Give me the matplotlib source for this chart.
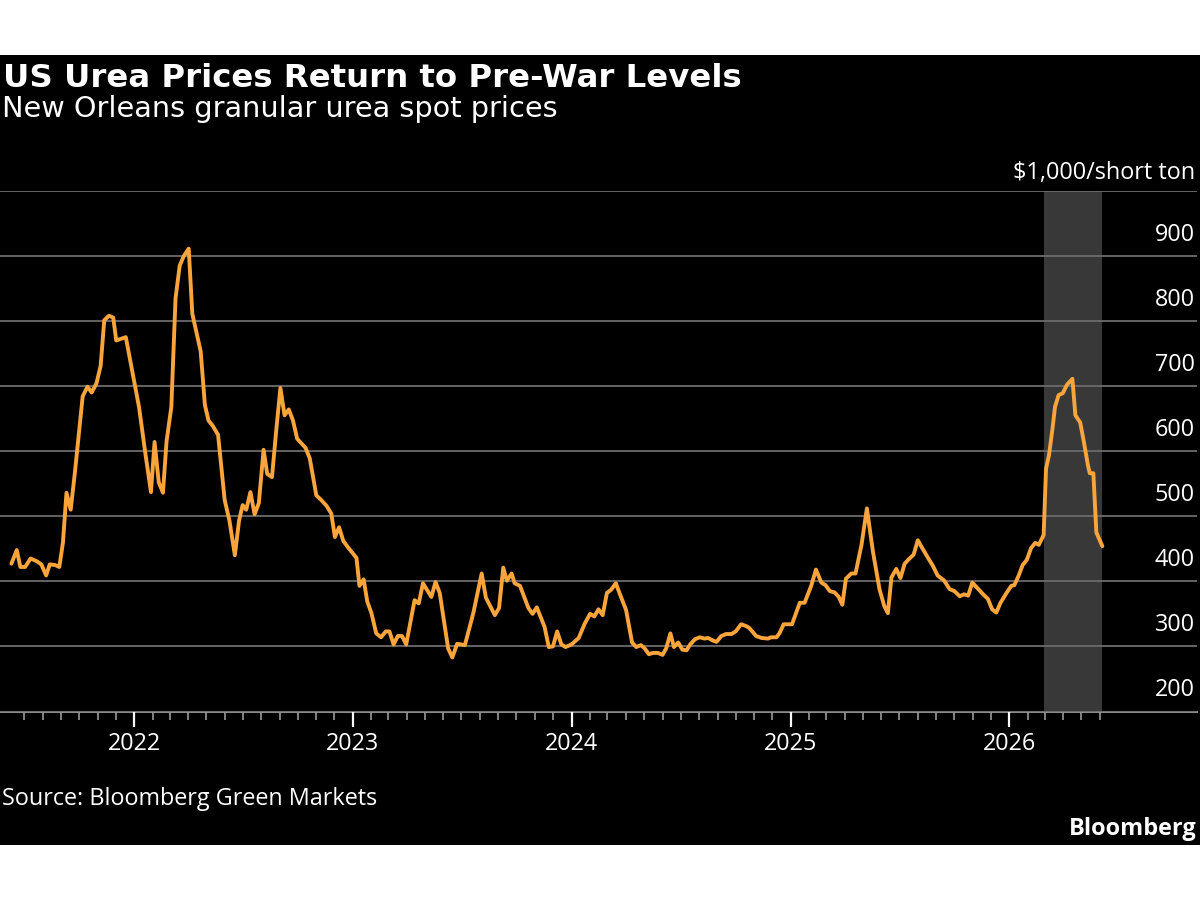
import matplotlib
matplotlib.use("Agg")
import matplotlib.pyplot as plt
import matplotlib.transforms as mtransforms
from matplotlib.patches import Rectangle
import pandas as pd

# ------------------------
# DATA ($ per short ton)
# ------------------------
dates_2021 = ["2021-06-10", "2021-06-19", "2021-06-25", "2021-07-03", "2021-07-12", "2021-07-22",
              "2021-07-30", "2021-08-07", "2021-08-13", "2021-08-22", "2021-08-29", "2021-09-04",
              "2021-09-10", "2021-09-17", "2021-09-24", "2021-10-07", "2021-10-15", "2021-10-22",
              "2021-10-30", "2021-11-06", "2021-11-12", "2021-11-20", "2021-11-27", "2021-12-02",
              "2021-12-18"]
price_2021 = [427, 448, 422, 422, 435, 431, 426, 409, 426, 425, 422, 459,
              536, 510, 567, 684, 699, 690, 704, 731, 801, 808, 805, 770,
              775]

dates_2022 = ["2022-01-09", "2022-01-20", "2022-01-29", "2022-02-04", "2022-02-11", "2022-02-18",
              "2022-02-24", "2022-03-04", "2022-03-11", "2022-03-18", "2022-03-25", "2022-04-02",
              "2022-04-08", "2022-04-15", "2022-04-22", "2022-04-29", "2022-05-05", "2022-05-12",
              "2022-05-21", "2022-06-01", "2022-06-09", "2022-06-18", "2022-06-25", "2022-07-01",
              "2022-07-07", "2022-07-14", "2022-07-21", "2022-07-28", "2022-08-05", "2022-08-11",
              "2022-08-19", "2022-08-26", "2022-09-02", "2022-09-09", "2022-09-16", "2022-09-23",
              "2022-09-30", "2022-10-07", "2022-10-14", "2022-10-21", "2022-11-01", "2022-11-09",
              "2022-11-18", "2022-11-26", "2022-12-02", "2022-12-09", "2022-12-16", "2022-12-24"]
price_2022 = [668, 594, 537, 614, 552, 536, 615, 668, 835, 885, 900, 911,
              811, 782, 753, 671, 647, 639, 625, 525, 493, 440, 493, 517,
              510, 537, 503, 520, 602, 565, 560, 631, 697, 655, 664, 647,
              619, 612, 605, 589, 532, 525, 516, 504, 468, 483, 462, 452]

dates_2023 = ["2023-01-01", "2023-01-07", "2023-01-12", "2023-01-19", "2023-01-25", "2023-02-01",
              "2023-02-09", "2023-02-17", "2023-02-25", "2023-03-03", "2023-03-10", "2023-03-17",
              "2023-03-24", "2023-03-31", "2023-04-14", "2023-04-21", "2023-04-28", "2023-05-12",
              "2023-05-19", "2023-05-26", "2023-06-09", "2023-06-16", "2023-06-24", "2023-07-07",
              "2023-07-21", "2023-08-04", "2023-08-11", "2023-08-26", "2023-09-02", "2023-09-09",
              "2023-09-15", "2023-09-23", "2023-09-28", "2023-10-07", "2023-10-21", "2023-10-28",
              "2023-11-04", "2023-11-17", "2023-11-24", "2023-12-01", "2023-12-08", "2023-12-15",
              "2023-12-22"]
price_2023 = [443, 436, 393, 403, 369, 351, 320, 314, 323, 323, 303, 316,
              316, 303, 371, 366, 397, 376, 399, 382, 297, 283, 304, 302,
              351, 412, 375, 348, 359, 421, 401, 412, 397, 393, 359, 350,
              360, 330, 299, 300, 323, 303, 299]

dates_2024 = ["2024-01-01", "2024-01-13", "2024-01-23", "2024-02-01", "2024-02-08", "2024-02-15",
              "2024-02-22", "2024-02-29", "2024-03-07", "2024-03-15", "2024-03-21", "2024-04-01",
              "2024-04-11", "2024-04-18", "2024-04-26", "2024-05-02", "2024-05-09", "2024-05-16",
              "2024-05-24", "2024-06-01", "2024-06-07", "2024-06-14", "2024-06-20", "2024-06-27",
              "2024-07-04", "2024-07-11", "2024-07-17", "2024-07-25", "2024-08-02", "2024-08-10",
              "2024-08-16", "2024-08-24", "2024-08-30", "2024-09-07", "2024-09-15", "2024-09-24",
              "2024-10-01", "2024-10-10", "2024-10-19", "2024-10-24", "2024-11-04", "2024-11-13",
              "2024-11-24", "2024-11-29", "2024-12-08", "2024-12-13", "2024-12-20"]
price_2024 = [303, 313, 335, 350, 346, 357, 348, 382, 387, 397, 382, 356,
              306, 299, 302, 297, 288, 290, 290, 287, 297, 320, 299, 306,
              295, 294, 303, 311, 314, 312, 313, 309, 307, 316, 319, 319,
              323, 334, 331, 328, 316, 313, 312, 314, 314, 320, 334]

dates_2025 = ["2025-01-03", "2025-01-16", "2025-01-24", "2025-02-04", "2025-02-12", "2025-02-21",
              "2025-02-28", "2025-03-07", "2025-03-15", "2025-03-22", "2025-03-28", "2025-04-03",
              "2025-04-12", "2025-04-19", "2025-04-29", "2025-05-08", "2025-05-18", "2025-05-29",
              "2025-06-06", "2025-06-12", "2025-06-18", "2025-06-26", "2025-07-03", "2025-07-10",
              "2025-07-17", "2025-07-25", "2025-08-01", "2025-08-09", "2025-08-18", "2025-08-26",
              "2025-09-03", "2025-09-14", "2025-09-23", "2025-10-01", "2025-10-10", "2025-10-17",
              "2025-10-24", "2025-10-31", "2025-11-08", "2025-11-18", "2025-11-26", "2025-12-03",
              "2025-12-10", "2025-12-17", "2025-12-27"]
price_2025 = [334, 367, 367, 393, 418, 398, 394, 385, 383, 376, 364, 404,
              412, 412, 456, 512, 446, 388, 362, 351, 406, 419, 405, 427,
              434, 441, 463, 450, 436, 424, 409, 401, 388, 385, 377, 380,
              378, 398, 390, 380, 373, 357, 352, 367, 382]

dates_2026 = ["2026-01-04", "2026-01-09", "2026-01-16", "2026-01-23", "2026-01-30", "2026-02-06",
              "2026-02-13", "2026-02-19", "2026-02-27", "2026-03-03", "2026-03-08", "2026-03-14",
              "2026-03-18", "2026-03-24", "2026-03-31", "2026-04-07", "2026-04-16", "2026-04-21",
              "2026-04-29", "2026-05-05", "2026-05-12", "2026-05-15", "2026-05-21", "2026-05-26",
              "2026-06-05"]
price_2026 = [393, 394, 408, 425, 433, 451, 459, 456, 471, 573, 594, 636,
              668, 686, 689, 702, 711, 655, 644, 615, 578, 566, 566, 475,
              454]

# shaded period (war)
shade_start = "2026-02-28"
shade_end = "2026-06-05"

y_ticks = [200, 300, 400, 500, 600, 700, 800, 900, 1000]
y_labels = ["200", "300", "400", "500", "600", "700", "800", "900"]
year_ticks = ["2022-01-01", "2023-01-01", "2024-01-01", "2025-01-01", "2026-01-01"]
year_labels = ["2022", "2023", "2024", "2025", "2026"]

title = "US Urea Prices Return to Pre-War Levels"
subtitle = "New Orleans granular urea spot prices"
unit = r"\$1,000/short ton"
source = "Source: Bloomberg Green Markets"

dates = pd.to_datetime(dates_2021 + dates_2022 + dates_2023 + dates_2024 + dates_2025 + dates_2026)
prices = price_2021 + price_2022 + price_2023 + price_2024 + price_2025 + price_2026

# ------------------------
# PLOT
# ------------------------
plt.rcParams["font.family"] = ["Open Sans", "DejaVu Sans"]

W, H = 1200, 900
fig = plt.figure(figsize=(12, 9), dpi=100, facecolor="white")
renderer = fig.canvas.get_renderer()


def fit_width(txt, target_px):
    # scale the font so the text is as wide as in the original
    w = txt.get_window_extent(renderer=renderer).width
    txt.set_fontsize(txt.get_fontsize() * target_px / w)


# black panel between the white strips
fig.add_artist(Rectangle((0, 55 / H), 1, 790 / H, transform=fig.transFigure,
                         facecolor="black", edgecolor="none", zorder=0))

ax = fig.add_axes([0, 1 - 711.5 / H, 1197 / W, (711.5 - 190.7) / H])
ax.set_facecolor("black")

ax.axvspan(pd.Timestamp(shade_start), pd.Timestamp(shade_end), color="#383838", lw=0, zorder=1)
ax.plot(dates, prices, color="#F9A53C", lw=2.8, solid_joinstyle="round",
        solid_capstyle="round", zorder=4)

ax.set_ylim(200, 1000)
ax.set_xlim(pd.Timestamp("2021-05-22"), pd.Timestamp("2026-11-10"))

ax.set_yticks(y_ticks)
ax.set_axisbelow(False)
ax.grid(axis="y", color="#6c6c6c", lw=1.3)
ax.tick_params(axis="y", left=False, labelleft=False)

ax.set_xticks(pd.to_datetime(year_ticks))
ax.set_xticklabels(year_labels)
months = pd.date_range("2021-07-01", "2026-06-01", freq="MS")
ax.set_xticks([m for m in months if m.month != 1], minor=True)
ax.tick_params(axis="x", which="major", length=11, width=1.6, color="white",
               labelcolor="white", labelsize=16.8, pad=4)
ax.tick_params(axis="x", which="minor", length=6, width=1.2, color="#999999")

for s in ["top", "left", "right"]:
    ax.spines[s].set_visible(False)
ax.spines["bottom"].set_color("#8a8a8a")
ax.spines["bottom"].set_linewidth(1.5)

# y labels sit just above their gridlines, inside on the right
lab_tr = mtransforms.offset_copy(ax.get_yaxis_transform(), fig=fig, y=9, units="dots")
for v, lab in zip(y_ticks, y_labels):
    ax.text(1195 / 1197, v, lab, transform=lab_tr, ha="right", va="bottom",
            color="white", fontsize=16.8)

t = fig.text(3 / W, 1 - 87.3 / H, title, color="white", fontsize=21,
             fontweight="bold", va="baseline", family="DejaVu Sans")
fit_width(t, 739)
t = fig.text(2 / W, 1 - 117 / H, subtitle, color="white", fontsize=19,
             va="baseline", family="DejaVu Sans")
fit_width(t, 555)
t = fig.text(1195 / W, 1 - 178.5 / H, unit, color="white", fontsize=16.5,
             ha="right", va="baseline")
fit_width(t, 183)
t = fig.text(2 / W, 1 - 805 / H, source, color="white", fontsize=16, va="baseline")
fit_width(t, 376)
t = fig.text(1197 / W, 1 - 835 / H, "Bloomberg", color="white", fontsize=16.5,
             fontweight="bold", ha="right", va="baseline")
fit_width(t, 127)

fig.savefig("out.png", dpi=100, facecolor="white")
